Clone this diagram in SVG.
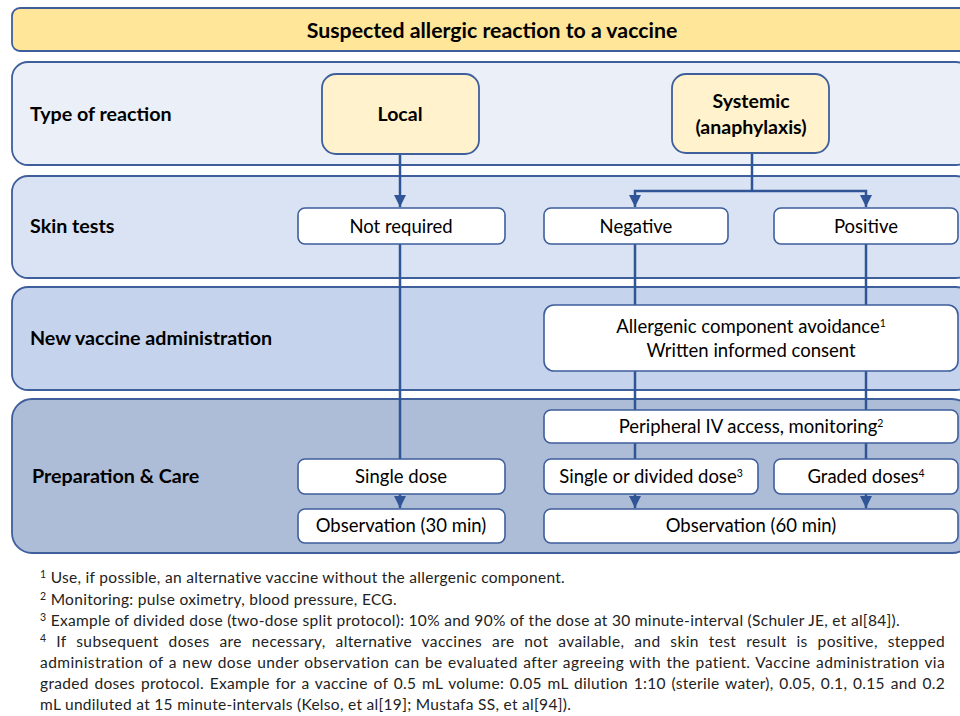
<svg xmlns="http://www.w3.org/2000/svg" width="960" height="716" viewBox="0 0 960 716">
<defs>
<marker id="arr" viewBox="0 0 10 10" refX="10" refY="5" markerWidth="5" markerHeight="5" orient="auto" markerUnits="strokeWidth">
<path d="M0,0 L10,5 L0,10 z" fill="#2F5597"/>
</marker>
<style>
.band{stroke:#3E5E9C;stroke-width:1.8}
.lbl{font-family:Lato,"Liberation Sans",sans-serif;font-weight:bold;font-size:19.7px;fill:#000}
.hdr{font-family:Lato,"Liberation Sans",sans-serif;font-weight:bold;font-size:21.3px;fill:#000;text-anchor:middle}
.ybox{fill:#FFF2CC;stroke:#3E5E9C;stroke-width:1.8}
.wbox{fill:#FFFFFF;stroke:#3E5E9C;stroke-width:1.6}
.bt{font-family:Lato,"Liberation Sans",sans-serif;font-weight:bold;font-size:19.5px;fill:#000;text-anchor:middle}
.t{font-family:Lato,"Liberation Sans",sans-serif;font-size:18.5px;fill:#000;text-anchor:middle}
.sup{font-size:10.5px}
.fn{font-family:Lato,"Liberation Sans",sans-serif;font-size:15.5px;letter-spacing:0.3px;fill:#222}
.c{fill:none;stroke:#2F5597;stroke-width:2.5}
</style>
</defs>
<rect width="960" height="716" fill="#FFFFFF"/>

<g id="header">
<rect x="12" y="8" width="960" height="43" rx="8" fill="#FFE699" class="band"/>
<text x="492" y="38" class="hdr">Suspected allergic reaction to a vaccine</text>
</g>

<g id="band-type">
<rect x="12" y="62" width="960" height="103" rx="16" fill="#EAEFF8" class="band"/>
<text x="30" y="121" class="lbl">Type of reaction</text>
</g>
<g id="band-skin">
<rect x="12" y="176" width="960" height="102" rx="16" fill="#DAE3F3" class="band"/>
<text x="30" y="233" class="lbl">Skin tests</text>
</g>
<g id="band-new">
<rect x="12" y="287" width="960" height="103" rx="16" fill="#C6D3EC" class="band"/>
<text x="30" y="345" class="lbl">New vaccine administration</text>
</g>
<g id="band-prep">
<rect x="12" y="399" width="960" height="154" rx="20" fill="#ADBCD7" class="band"/>
<text x="32" y="483" class="lbl">Preparation &amp; Care</text>
</g>

<g id="connectors">
<path class="c" d="M400,154 V207" marker-end="url(#arr)"/>
<path class="c" d="M400,244 V459"/>
<path class="c" d="M400,494 V508" marker-end="url(#arr)"/>
<path class="c" d="M752,153 V191"/>
<path class="c" d="M752,191 H635 V207" marker-end="url(#arr)"/>
<path class="c" d="M752,191 H866 V207" marker-end="url(#arr)"/>
<path class="c" d="M635,244 V305"/>
<path class="c" d="M866,244 V305"/>
<path class="c" d="M635,371 V410"/>
<path class="c" d="M866,371 V410"/>
<path class="c" d="M635,443 V459"/>
<path class="c" d="M866,443 V459"/>
<path class="c" d="M635,494 V508" marker-end="url(#arr)"/>
<path class="c" d="M866,494 V508" marker-end="url(#arr)"/>
</g>

<g id="local">
<rect x="322" y="74" width="157" height="80" rx="14" class="ybox"/>
<text x="400" y="121" class="bt">Local</text>
</g>
<g id="systemic">
<rect x="672" y="74" width="157" height="79" rx="14" class="ybox"/>
<text x="751" y="108" class="bt">Systemic</text>
<text x="751" y="134" class="bt">(anaphylaxis)</text>
</g>

<g id="not-required">
<rect x="298" y="208" width="207" height="36" rx="7" class="wbox"/>
<text x="401" y="233" class="t">Not required</text>
</g>
<g id="negative">
<rect x="544" y="208" width="184" height="36" rx="7" class="wbox"/>
<text x="636" y="233" class="t">Negative</text>
</g>
<g id="positive">
<rect x="774" y="208" width="184" height="36" rx="7" class="wbox"/>
<text x="866" y="233" class="t">Positive</text>
</g>

<g id="allergenic">
<rect x="544" y="305" width="414" height="66" rx="10" class="wbox"/>
<text x="751" y="333" class="t">Allergenic component avoidance<tspan class="sup" dy="-6">1</tspan></text>
<text x="751" y="357" class="t">Written informed consent</text>
</g>

<g id="peripheral">
<rect x="544" y="410" width="414" height="33" rx="7" class="wbox"/>
<text x="751" y="433" class="t">Peripheral IV access, monitoring<tspan class="sup" dy="-6">2</tspan></text>
</g>

<g id="single-dose">
<rect x="298" y="459" width="207" height="35" rx="7" class="wbox"/>
<text x="401" y="483" class="t">Single dose</text>
</g>
<g id="single-divided">
<rect x="544" y="459" width="214" height="35" rx="7" class="wbox"/>
<text x="651" y="483" class="t">Single or divided dose<tspan class="sup" dy="-6">3</tspan></text>
</g>
<g id="graded">
<rect x="774" y="459" width="184" height="35" rx="7" class="wbox"/>
<text x="866" y="483" class="t">Graded doses<tspan class="sup" dy="-6">4</tspan></text>
</g>

<g id="obs30">
<rect x="298" y="509" width="207" height="34" rx="7" class="wbox"/>
<text x="401" y="532" class="t">Observation (30 min)</text>
</g>
<g id="obs60">
<rect x="544" y="509" width="414" height="34" rx="7" class="wbox"/>
<text x="751" y="532" class="t">Observation (60 min)</text>
</g>

<g id="footnotes">
<text x="40" y="583" class="fn"><tspan class="sup" dy="-5">1</tspan><tspan dy="5"> Use, if possible, an alternative vaccine without the allergenic component.</tspan></text>
<text x="40" y="605" class="fn"><tspan class="sup" dy="-5">2</tspan><tspan dy="5"> Monitoring: pulse oximetry, blood pressure, ECG.</tspan></text>
<text x="40" y="626" class="fn"><tspan class="sup" dy="-5">3</tspan><tspan dy="5"> Example of divided dose (two-dose split protocol): 10% and 90% of the dose at 30 minute-interval (Schuler JE, et al[84]).</tspan></text>
<text x="40" y="647" class="fn" style="word-spacing:5.5px" textLength="905" lengthAdjust="spacing"><tspan class="sup" dy="-5">4</tspan><tspan dy="5"> If subsequent doses are necessary, alternative vaccines are not available, and skin test result is positive, stepped</tspan></text>
<text x="40" y="668" class="fn" style="word-spacing:1px" textLength="905" lengthAdjust="spacing">administration of a new dose under observation can be evaluated after agreeing with the patient. Vaccine administration via</text>
<text x="40" y="689" class="fn" style="word-spacing:1.5px" textLength="905" lengthAdjust="spacing">graded doses protocol. Example for a vaccine of 0.5 mL volume: 0.05 mL dilution 1:10 (sterile water), 0.05, 0.1, 0.15 and 0.2</text>
<text x="40" y="710" class="fn">mL undiluted at 15 minute-intervals (Kelso, et al[19]; Mustafa SS, et al[94]).</text>
</g>
</svg>
